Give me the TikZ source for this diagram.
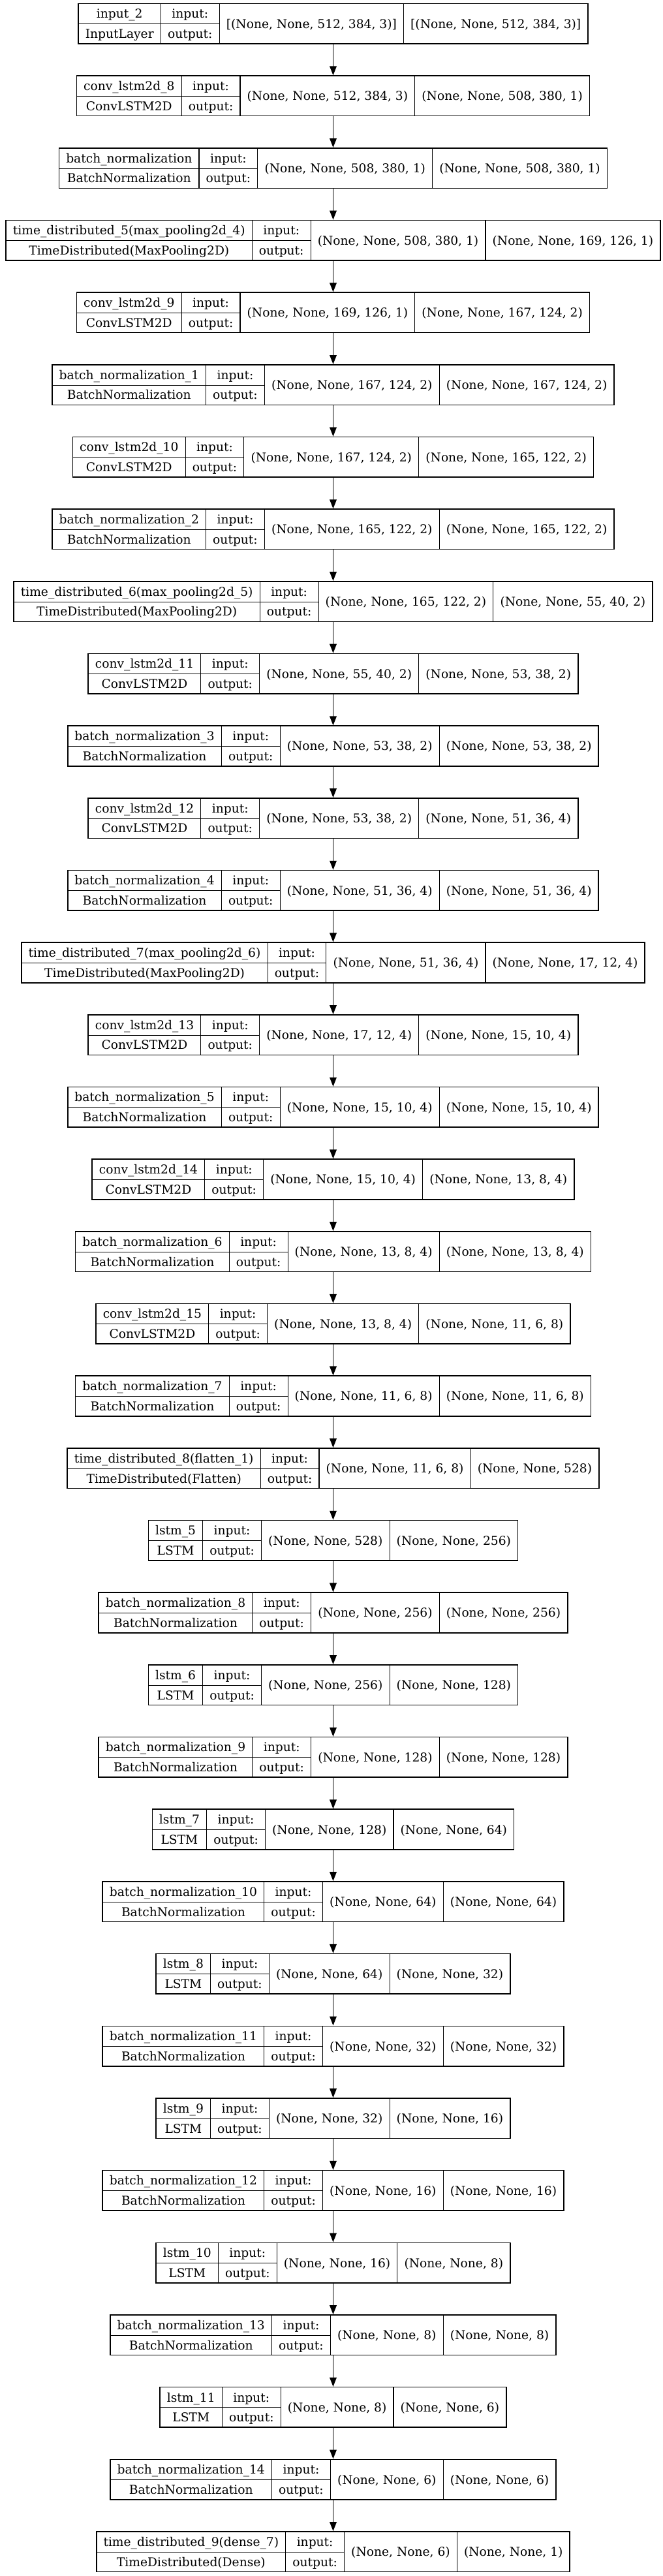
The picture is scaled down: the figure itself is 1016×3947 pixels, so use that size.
\documentclass[tikz,border=0pt]{standalone}
\usepackage{fontspec}
\setmainfont{DejaVu Serif}
\usetikzlibrary{arrows.meta}
\setlength{\tabcolsep}{8pt}
\setlength{\arrayrulewidth}{0.8pt}
\renewcommand{\arraystretch}{0}
\newcommand{\rs}{\rule[-6.3pt]{0pt}{23.06pt}}
\newcommand{\lowr}[1]{\raisebox{-11.53pt}[0pt][0pt]{#1}}
\newcommand{\recbox}[4]{\begin{tabular}{c|c|c|c}\rs #1&\rs input:&\lowr{#3}&\lowr{#4}\\\cline{1-2}\rs #2&\rs output:&&\end{tabular}}
\tikzset{
  rec/.style={draw=black, line width=1.2pt, inner sep=0pt, fill=white,
    font=\fontsize{14pt}{16pt}\selectfont},
  edge/.style={-{Triangle[length=10.5pt,width=8pt]}, line width=1pt, draw=black}
}
\begin{document}
\begin{tikzpicture}[x=0.75pt,y=-0.75pt]
\fill[white] (0,0) rectangle (1016,3947);
\useasboundingbox (0,0) rectangle (1016,3947);
\node[rec] (n0) at (510.5,{36.25+110.67*0}) {\recbox{input\_2}{InputLayer}{[(None, None, 512, 384, 3)]}{[(None, None, 512, 384, 3)]}};
\node[rec] (n1) at (510.5,{36.25+110.67*1}) {\recbox{conv\_lstm2d\_8}{ConvLSTM2D}{(None, None, 512, 384, 3)}{(None, None, 508, 380, 1)}};
\node[rec] (n2) at (510.5,{36.25+110.67*2}) {\recbox{batch\_normalization}{BatchNormalization}{(None, None, 508, 380, 1)}{(None, None, 508, 380, 1)}};
\node[rec] (n3) at (510.5,{36.25+110.67*3}) {\recbox{time\_distributed\_5(max\_pooling2d\_4)}{TimeDistributed(MaxPooling2D)}{(None, None, 508, 380, 1)}{(None, None, 169, 126, 1)}};
\node[rec] (n4) at (510.5,{36.25+110.67*4}) {\recbox{conv\_lstm2d\_9}{ConvLSTM2D}{(None, None, 169, 126, 1)}{(None, None, 167, 124, 2)}};
\node[rec] (n5) at (510.5,{36.25+110.67*5}) {\recbox{batch\_normalization\_1}{BatchNormalization}{(None, None, 167, 124, 2)}{(None, None, 167, 124, 2)}};
\node[rec] (n6) at (510.5,{36.25+110.67*6}) {\recbox{conv\_lstm2d\_10}{ConvLSTM2D}{(None, None, 167, 124, 2)}{(None, None, 165, 122, 2)}};
\node[rec] (n7) at (510.5,{36.25+110.67*7}) {\recbox{batch\_normalization\_2}{BatchNormalization}{(None, None, 165, 122, 2)}{(None, None, 165, 122, 2)}};
\node[rec] (n8) at (510.5,{36.25+110.67*8}) {\recbox{time\_distributed\_6(max\_pooling2d\_5)}{TimeDistributed(MaxPooling2D)}{(None, None, 165, 122, 2)}{(None, None, 55, 40, 2)}};
\node[rec] (n9) at (510.5,{36.25+110.67*9}) {\recbox{conv\_lstm2d\_11}{ConvLSTM2D}{(None, None, 55, 40, 2)}{(None, None, 53, 38, 2)}};
\node[rec] (n10) at (510.5,{36.25+110.67*10}) {\recbox{batch\_normalization\_3}{BatchNormalization}{(None, None, 53, 38, 2)}{(None, None, 53, 38, 2)}};
\node[rec] (n11) at (510.5,{36.25+110.67*11}) {\recbox{conv\_lstm2d\_12}{ConvLSTM2D}{(None, None, 53, 38, 2)}{(None, None, 51, 36, 4)}};
\node[rec] (n12) at (510.5,{36.25+110.67*12}) {\recbox{batch\_normalization\_4}{BatchNormalization}{(None, None, 51, 36, 4)}{(None, None, 51, 36, 4)}};
\node[rec] (n13) at (510.5,{36.25+110.67*13}) {\recbox{time\_distributed\_7(max\_pooling2d\_6)}{TimeDistributed(MaxPooling2D)}{(None, None, 51, 36, 4)}{(None, None, 17, 12, 4)}};
\node[rec] (n14) at (510.5,{36.25+110.67*14}) {\recbox{conv\_lstm2d\_13}{ConvLSTM2D}{(None, None, 17, 12, 4)}{(None, None, 15, 10, 4)}};
\node[rec] (n15) at (510.5,{36.25+110.67*15}) {\recbox{batch\_normalization\_5}{BatchNormalization}{(None, None, 15, 10, 4)}{(None, None, 15, 10, 4)}};
\node[rec] (n16) at (510.5,{36.25+110.67*16}) {\recbox{conv\_lstm2d\_14}{ConvLSTM2D}{(None, None, 15, 10, 4)}{(None, None, 13, 8, 4)}};
\node[rec] (n17) at (510.5,{36.25+110.67*17}) {\recbox{batch\_normalization\_6}{BatchNormalization}{(None, None, 13, 8, 4)}{(None, None, 13, 8, 4)}};
\node[rec] (n18) at (510.5,{36.25+110.67*18}) {\recbox{conv\_lstm2d\_15}{ConvLSTM2D}{(None, None, 13, 8, 4)}{(None, None, 11, 6, 8)}};
\node[rec] (n19) at (510.5,{36.25+110.67*19}) {\recbox{batch\_normalization\_7}{BatchNormalization}{(None, None, 11, 6, 8)}{(None, None, 11, 6, 8)}};
\node[rec] (n20) at (510.5,{36.25+110.67*20}) {\recbox{time\_distributed\_8(flatten\_1)}{TimeDistributed(Flatten)}{(None, None, 11, 6, 8)}{(None, None, 528)}};
\node[rec] (n21) at (510.5,{36.25+110.67*21}) {\recbox{lstm\_5}{LSTM}{(None, None, 528)}{(None, None, 256)}};
\node[rec] (n22) at (510.5,{36.25+110.67*22}) {\recbox{batch\_normalization\_8}{BatchNormalization}{(None, None, 256)}{(None, None, 256)}};
\node[rec] (n23) at (510.5,{36.25+110.67*23}) {\recbox{lstm\_6}{LSTM}{(None, None, 256)}{(None, None, 128)}};
\node[rec] (n24) at (510.5,{36.25+110.67*24}) {\recbox{batch\_normalization\_9}{BatchNormalization}{(None, None, 128)}{(None, None, 128)}};
\node[rec] (n25) at (510.5,{36.25+110.67*25}) {\recbox{lstm\_7}{LSTM}{(None, None, 128)}{(None, None, 64)}};
\node[rec] (n26) at (510.5,{36.25+110.67*26}) {\recbox{batch\_normalization\_10}{BatchNormalization}{(None, None, 64)}{(None, None, 64)}};
\node[rec] (n27) at (510.5,{36.25+110.67*27}) {\recbox{lstm\_8}{LSTM}{(None, None, 64)}{(None, None, 32)}};
\node[rec] (n28) at (510.5,{36.25+110.67*28}) {\recbox{batch\_normalization\_11}{BatchNormalization}{(None, None, 32)}{(None, None, 32)}};
\node[rec] (n29) at (510.5,{36.25+110.67*29}) {\recbox{lstm\_9}{LSTM}{(None, None, 32)}{(None, None, 16)}};
\node[rec] (n30) at (510.5,{36.25+110.67*30}) {\recbox{batch\_normalization\_12}{BatchNormalization}{(None, None, 16)}{(None, None, 16)}};
\node[rec] (n31) at (510.5,{36.25+110.67*31}) {\recbox{lstm\_10}{LSTM}{(None, None, 16)}{(None, None, 8)}};
\node[rec] (n32) at (510.5,{36.25+110.67*32}) {\recbox{batch\_normalization\_13}{BatchNormalization}{(None, None, 8)}{(None, None, 8)}};
\node[rec] (n33) at (510.5,{36.25+110.67*33}) {\recbox{lstm\_11}{LSTM}{(None, None, 8)}{(None, None, 6)}};
\node[rec] (n34) at (510.5,{36.25+110.67*34}) {\recbox{batch\_normalization\_14}{BatchNormalization}{(None, None, 6)}{(None, None, 6)}};
\node[rec] (n35) at (510.5,{36.25+110.67*35}) {\recbox{time\_distributed\_9(dense\_7)}{TimeDistributed(Dense)}{(None, None, 6)}{(None, None, 1)}};
\foreach \i [evaluate=\i as \j using int(\i+1)] in {0,...,34} {
  \draw[edge] (n\i) -- (n\j);
}
\end{tikzpicture}
\end{document}
